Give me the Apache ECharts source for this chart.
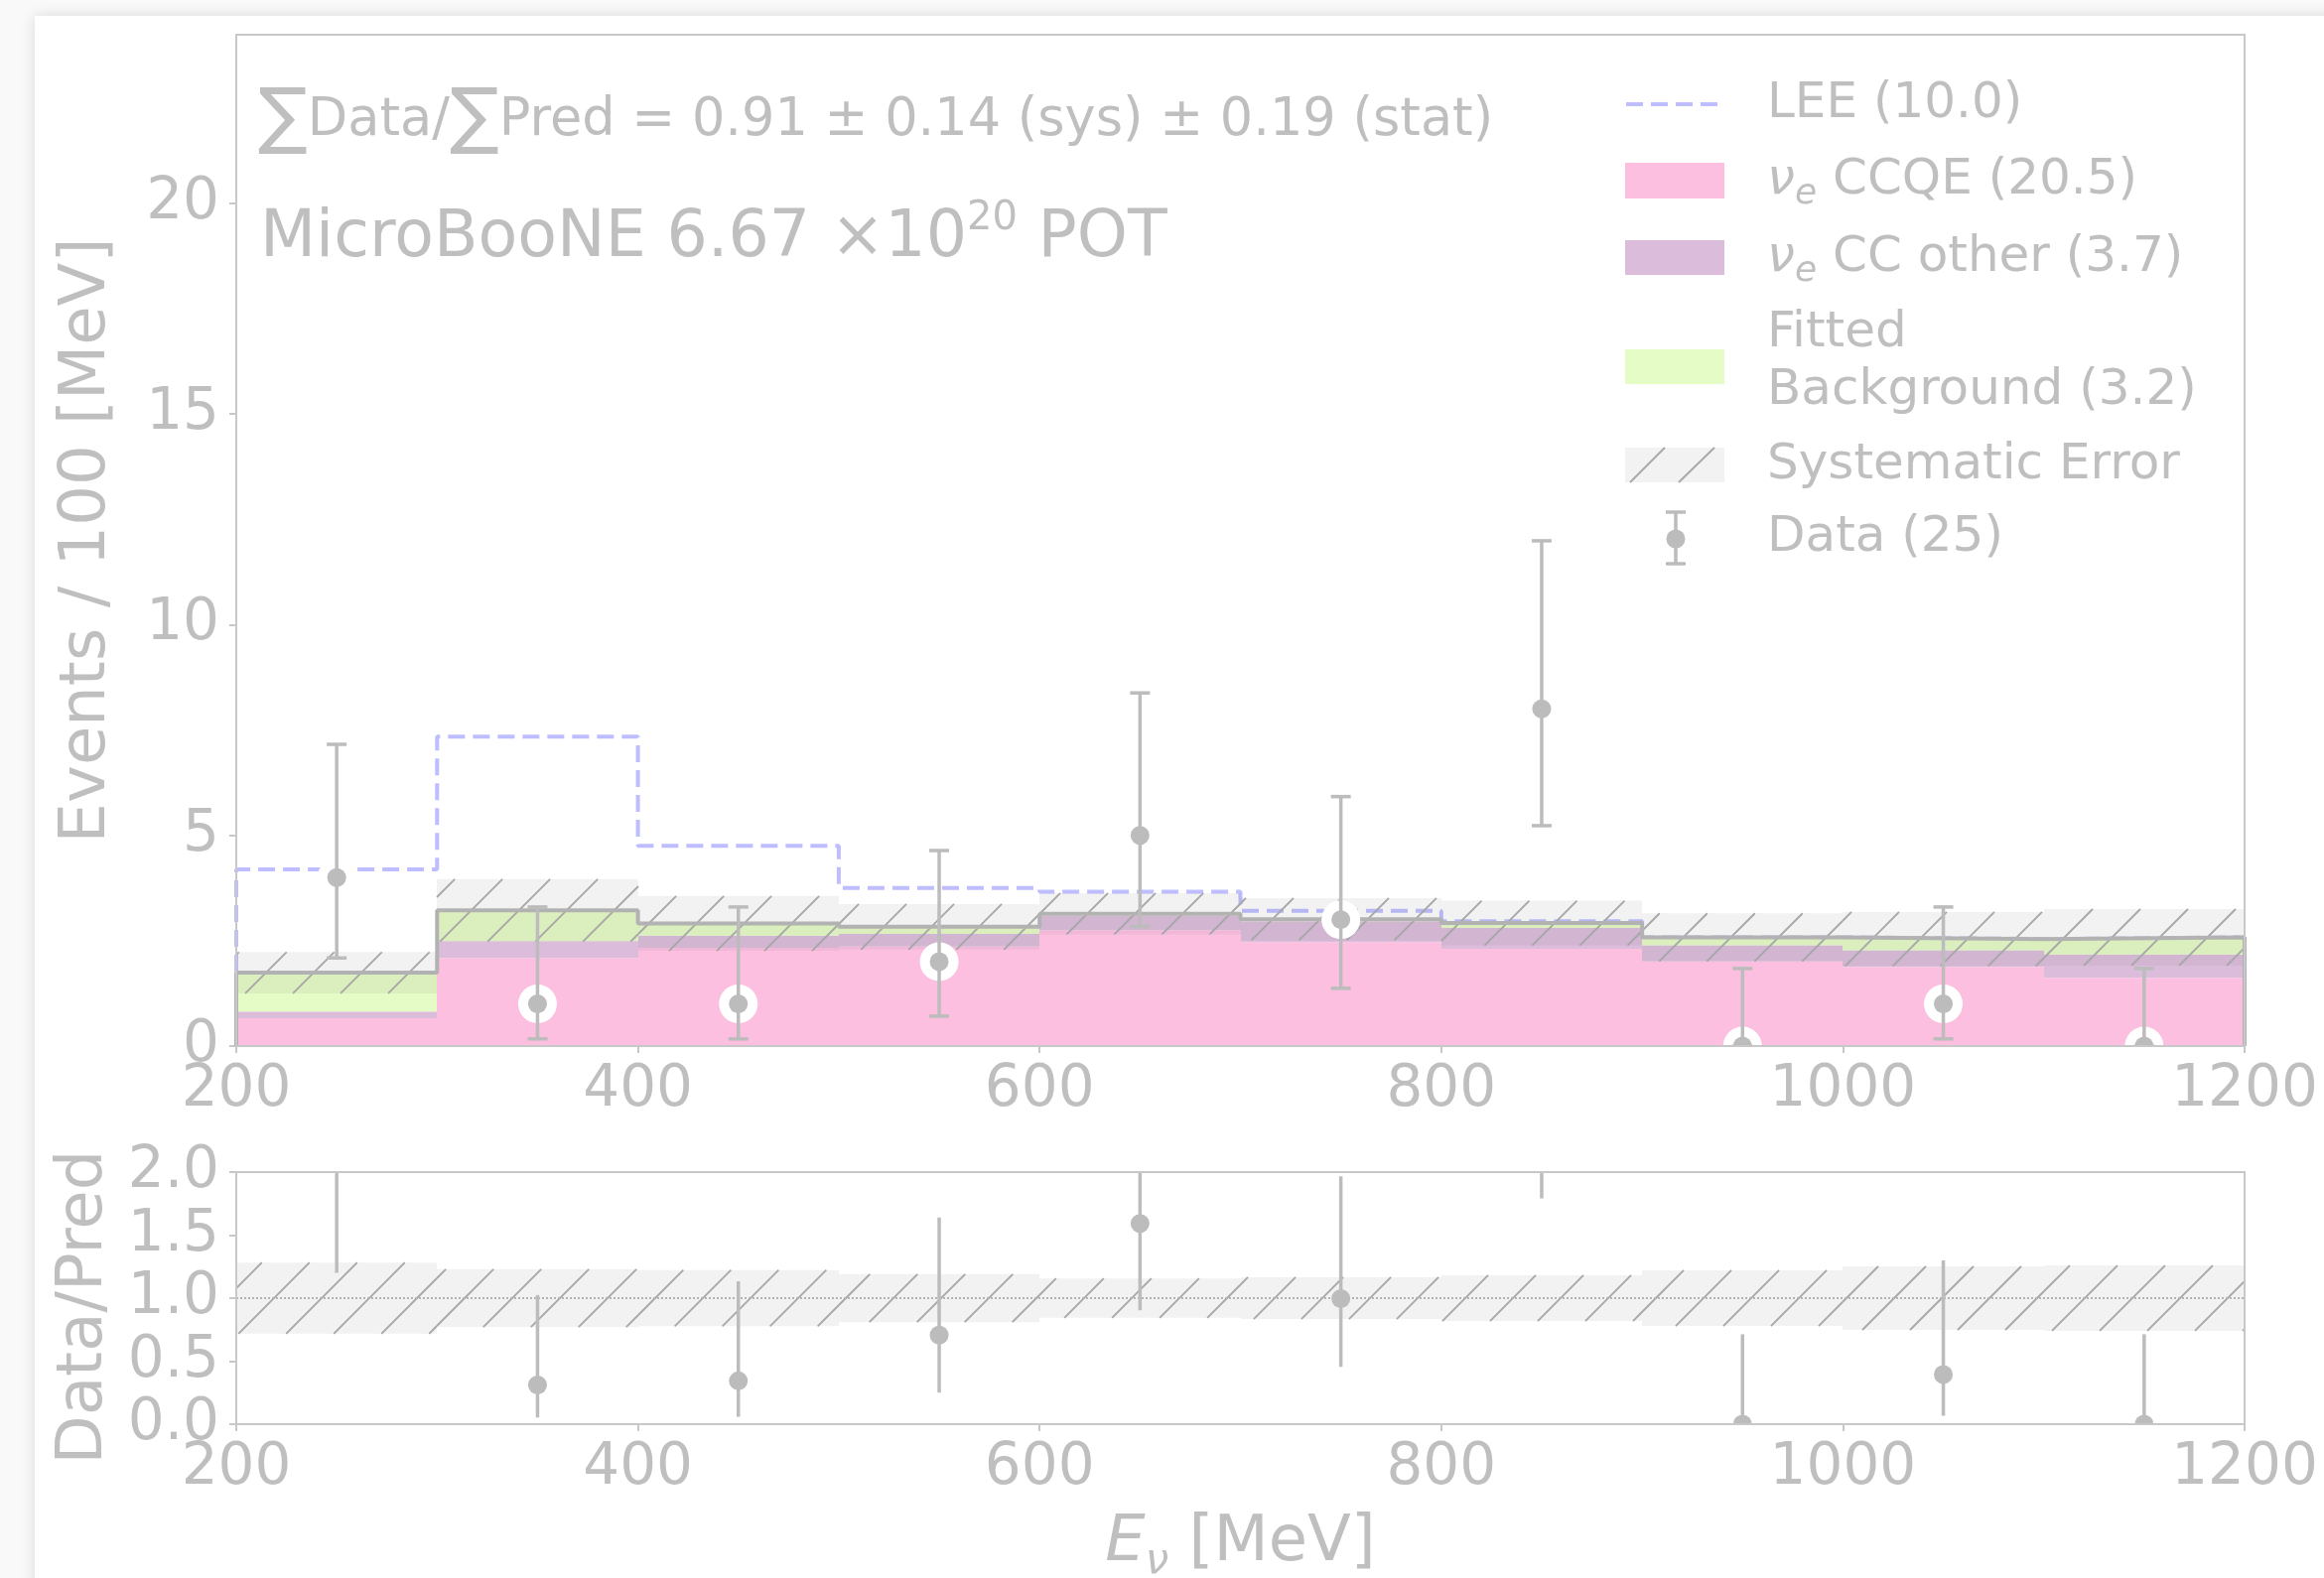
<!DOCTYPE html>
<html>
<head>
<meta charset="utf-8">
<script src="https://cdn.jsdelivr.net/npm/echarts@6/dist/echarts.min.js"></script>
<style>
  html, body { margin: 0; padding: 0; background: #f9f9f9; }
  #chart { width: 2341px; height: 1590px; }
</style>
</head>
<body>
<div id="chart"></div>
<script>
// binning (MeV) and stacked predictions, events / 100 MeV
var binEdges = [200, 300, 400, 500, 600, 700, 800, 900, 1000, 1100, 1200];
var ccqe = [0.66, 2.09, 2.33, 2.36, 2.75, 2.47, 2.31, 2.01, 1.88, 1.62];
var ccOther = [0.16, 0.40, 0.29, 0.30, 0.34, 0.49, 0.49, 0.38, 0.39, 0.55];
var fittedBkg = [0.92, 0.73, 0.29, 0.17, 0.05, 0.05, 0.12, 0.19, 0.27, 0.41];
var sysErr = [0.49, 0.74, 0.65, 0.54, 0.49, 0.50, 0.53, 0.57, 0.64, 0.67];
var leeLevel = [4.19, 7.34, 4.75, 3.75, 3.66, 3.21, 2.96, 2.58, 2.54, 2.58];
// data with asymmetric (poisson) errors
var dataCounts = [4, 1, 1, 2, 5, 3, 8, 0, 1, 0];
var dataErrLow = [1.91, 0.83, 0.83, 1.29, 2.16, 1.63, 2.77, 0, 0.83, 0];
var dataErrHigh = [3.16, 2.30, 2.30, 2.64, 3.38, 2.92, 3.99, 1.84, 2.30, 1.84];
// tick labels
var xTicks = [200, 400, 600, 800, 1000, 1200];
var yTicksMain = [0, 5, 10, 15, 20];
var yTicksRatio = [0, 0.5, 1.0, 1.5, 2.0];

var TXT = '#bfbfbf';
var FONT = 'DejaVu Sans';
var PINK = '#fdbfe0', PURPLE = '#dcbcdb', GREEN = '#e6fcc6';
var BAND = 'rgba(128,128,128,0.1)';
var DATA_C = '#bcbcbc';
var LEE_C = '#bdbdff';
var HATCH = 48;

var binLo = binEdges.slice(0, -1);
var binHi = binEdges.slice(1);
var binCenter = binLo.map(function (x, i) { return (x + binHi[i]) / 2; });
var otherTop = ccqe.map(function (v, i) { return v + ccOther[i]; });
var predTotal = otherTop.map(function (v, i) { return v + fittedBkg[i]; });
var zeros = ccqe.map(function () { return 0; });

function layerRows(lower, upper) {
  return binLo.map(function (x, i) { return [x, binHi[i], lower[i], upper[i]]; });
}
function stepPoints(levels) {
  var pts = [[binEdges[0], 0]];
  levels.forEach(function (v, i) { pts.push([binLo[i], v], [binHi[i], v]); });
  pts.push([binEdges[binEdges.length - 1], 0]);
  return pts;
}

function binRect(color) {
  return function (params, api) {
    var a = api.coord([api.value(0), api.value(3)]);
    var b = api.coord([api.value(1), api.value(2)]);
    var x0 = Math.round(a[0]), x1 = Math.round(b[0]);
    return { type: 'rect', shape: { x: x0, y: a[1], width: x1 - x0, height: b[1] - a[1] }, style: { fill: color } };
  };
}

// "/" hatch clipped to a pixel rect, anchored to the canvas
function hatchLines(x0, x1, y0, y1) {
  var out = [];
  for (var k = Math.ceil((x0 + y0) / HATCH) * HATCH; k <= x1 + y1; k += HATCH) {
    var ya = Math.max(y0, k - x1), yb = Math.min(y1, k - x0);
    if (yb - ya < 1) continue;
    out.push({ type: 'line', shape: { x1: k - ya, y1: ya, x2: k - yb, y2: yb },
      style: { stroke: '#a6a6a6', lineWidth: 1.8 } });
  }
  return out;
}
function bandItem(params, api) {
  var a = api.coord([api.value(0), api.value(3)]);
  var b = api.coord([api.value(1), api.value(2)]);
  var x0 = Math.round(a[0]), x1 = Math.round(b[0]);
  return { type: 'group', children: [
    { type: 'rect', shape: { x: x0, y: a[1], width: x1 - x0, height: b[1] - a[1] }, style: { fill: BAND } }
  ].concat(hatchLines(x0, x1, a[1], b[1])) };
}

function errBar(caps) {
  return function (params, api) {
    var top = api.coord([api.value(0), api.value(3)]);
    var bot = api.coord([api.value(0), api.value(2)]);
    var st = { stroke: DATA_C, lineWidth: 3.5 };
    var ch = [{ type: 'line', shape: { x1: top[0], y1: top[1], x2: bot[0], y2: bot[1] }, style: st }];
    if (caps) {
      [top, bot].forEach(function (p) {
        ch.push({ type: 'line', shape: { x1: p[0] - 10, y1: p[1], x2: p[0] + 10, y2: p[1] }, style: st });
      });
    }
    return { type: 'group', children: ch };
  };
}
function dot(r, color) {
  return function (params, api) {
    var p = api.coord([api.value(0), api.value(1)]);
    return { type: 'circle', shape: { cx: p[0], cy: p[1], r: r }, style: { fill: color } };
  };
}

var dataRows = binCenter.map(function (x, i) {
  return [x, dataCounts[i], dataCounts[i] - dataErrLow[i], dataCounts[i] + dataErrHigh[i]];
});
var ratioRows = binCenter.map(function (x, i) {
  var p = predTotal[i];
  return [x, dataCounts[i] / p, (dataCounts[i] - dataErrLow[i]) / p, (dataCounts[i] + dataErrHigh[i]) / p];
});
var ratioBand = binLo.map(function (x, i) {
  var r = sysErr[i] / predTotal[i];
  return [x, binHi[i], 1 - r, 1 + r];
});
var sysRows = binLo.map(function (x, i) {
  return [x, binHi[i], predTotal[i] - sysErr[i], predTotal[i] + sysErr[i]];
});

function custom(grid, render, data, z) {
  return { type: 'custom', xAxisIndex: grid, yAxisIndex: grid, renderItem: render, data: data,
    z: z, clip: true, silent: true };
}

var axisTick = { show: true, length: 7, lineStyle: { color: '#c8c8c8', width: 2 } };
var labelStyle = { fontSize: 58, color: TXT, fontFamily: FONT };

function xAx(grid, extra) {
  var ax = {
    gridIndex: grid, type: 'value', min: 200, max: 1200, interval: 200,
    axisLine: { show: false }, splitLine: { show: false },
    axisTick: Object.assign({ customValues: xTicks }, axisTick),
    axisLabel: Object.assign({ margin: 16, customValues: xTicks,
      formatter: function (v) { return String(v); } }, labelStyle)
  };
  return Object.assign(ax, extra || {});
}

var legRich = {
  nu: { fontSize: 50, lineHeight: 64, fontStyle: 'italic', fill: TXT, fontFamily: FONT },
  sub: { fontSize: 36, lineHeight: 32, fontStyle: 'italic', verticalAlign: 'bottom', fill: TXT, fontFamily: FONT },
  t: { fontSize: 50, lineHeight: 64, fill: TXT, fontFamily: FONT }
};
function legText(y, text, extra) {
  return { type: 'text', x: 1780, y: y, z: 100,
    style: Object.assign({ text: text, fill: TXT, fontSize: 50, fontFamily: FONT, verticalAlign: 'middle', rich: legRich }, extra || {}) };
}
var hatchLegend = [[1642, 486, 1677, 451], [1691, 486, 1727, 451]].map(function (s) {
  return { type: 'line', z: 100, shape: { x1: s[0], y1: s[1], x2: s[2], y2: s[3] }, style: { stroke: '#a6a6a6', lineWidth: 1.8 } };
});

var chart = echarts.init(document.getElementById('chart'));
chart.setOption({
  animation: false,
  backgroundColor: '#f9f9f9',
  grid: [
    { left: 238, right: 80, top: 35, height: 1019, show: true, backgroundColor: 'transparent',
      borderColor: '#c8c8c8', borderWidth: 2, z: 20, outerBoundsMode: 'none' },
    { left: 238, right: 80, top: 1181, height: 254, show: true, backgroundColor: 'transparent',
      borderColor: '#c8c8c8', borderWidth: 2, z: 20, outerBoundsMode: 'none' }
  ],
  xAxis: [
    xAx(0),
    xAx(1, {
      name: '{e|E}{s|ν}{t| [MeV]}', nameLocation: 'middle', nameGap: 80,
      nameTextStyle: { color: TXT, rich: {
        e: { fontSize: 64, lineHeight: 80, fontStyle: 'italic', color: TXT, fontFamily: FONT },
        s: { fontSize: 42, lineHeight: 38, fontStyle: 'italic', verticalAlign: 'bottom', color: TXT, fontFamily: FONT },
        t: { fontSize: 64, lineHeight: 80, color: TXT, fontFamily: FONT }
      } }
    })
  ],
  yAxis: [
    { gridIndex: 0, type: 'value', min: 0, max: 24, interval: 5,
      axisLine: { show: false }, splitLine: { show: false },
      axisTick: Object.assign({ customValues: yTicksMain }, axisTick),
      axisLabel: Object.assign({ margin: 17, customValues: yTicksMain }, labelStyle),
      name: 'Events / 100 [MeV]', nameLocation: 'middle', nameGap: 118,
      nameTextStyle: { fontSize: 64, color: TXT, fontFamily: FONT } },
    { gridIndex: 1, type: 'value', min: 0, max: 2, interval: 0.5,
      axisLine: { show: false }, splitLine: { show: false },
      axisTick: Object.assign({ customValues: yTicksRatio }, axisTick),
      axisLabel: Object.assign({ margin: 17, customValues: yTicksRatio,
        formatter: function (v) { return v.toFixed(1); } }, labelStyle),
      name: 'Data/Pred', nameLocation: 'middle', nameGap: 118,
      nameTextStyle: { fontSize: 64, color: TXT, fontFamily: FONT, padding: [0, 18, 0, 0] } }
  ],
  graphic: [
    { type: 'rect', z: -100, shape: { x: 35, y: 16, width: 2400, height: 1700 },
      style: { fill: '#ffffff', shadowBlur: 14, shadowColor: 'rgba(0,0,0,0.13)' } },
    { type: 'text', x: 260, y: 122, z: 100, style: {
      text: '{s|∑}{t|Data/}{s|∑}{t|Pred = 0.91 ± 0.14 (sys) ± 0.19 (stat)}', verticalAlign: 'middle',
      fill: TXT, fontFamily: FONT, fontSize: 52.5,
      rich: { s: { fontSize: 74, lineHeight: 80, fill: TXT, fontFamily: FONT },
              t: { fontSize: 52.5, lineHeight: 80, fill: TXT, fontFamily: FONT } } } },
    { type: 'text', x: 262, y: 241, z: 100, style: {
      text: '{t|MicroBooNE 6.67 ×10}{p|20}{t| POT}', verticalAlign: 'middle',
      fill: TXT, fontFamily: FONT, fontSize: 65,
      rich: { t: { fontSize: 65, lineHeight: 80, fill: TXT, fontFamily: FONT },
              p: { fontSize: 40, lineHeight: 40, verticalAlign: 'top', fill: TXT, fontFamily: FONT } } } },
    // legend
    { type: 'line', z: 100, shape: { x1: 1638, y1: 105, x2: 1737, y2: 105 },
      style: { stroke: LEE_C, lineWidth: 4, lineDash: [17, 8] } },
    { type: 'rect', z: 100, shape: { x: 1637, y: 164, width: 100, height: 36 }, style: { fill: PINK } },
    { type: 'rect', z: 100, shape: { x: 1637, y: 242, width: 100, height: 35 }, style: { fill: PURPLE } },
    { type: 'rect', z: 100, shape: { x: 1637, y: 352, width: 100, height: 35 }, style: { fill: GREEN } },
    { type: 'rect', z: 100, shape: { x: 1637, y: 451, width: 100, height: 35 }, style: { fill: BAND } }
  ].concat(hatchLegend).concat([
    { type: 'line', z: 100, shape: { x1: 1688, y1: 516, x2: 1688, y2: 568 }, style: { stroke: DATA_C, lineWidth: 3.5 } },
    { type: 'line', z: 100, shape: { x1: 1678, y1: 516, x2: 1698, y2: 516 }, style: { stroke: DATA_C, lineWidth: 3.5 } },
    { type: 'line', z: 100, shape: { x1: 1678, y1: 568, x2: 1698, y2: 568 }, style: { stroke: DATA_C, lineWidth: 3.5 } },
    { type: 'circle', z: 100, shape: { cx: 1688, cy: 543, r: 9.5 }, style: { fill: DATA_C } },
    legText(105, 'LEE (10.0)'),
    legText(182, '{nu|ν}{sub|e}{t| CCQE (20.5)}'),
    legText(260, '{nu|ν}{sub|e}{t| CC other (3.7)}'),
    legText(365, 'Fitted\nBackground (3.2)', { lineHeight: 58, rich: null }),
    legText(469, 'Systematic Error'),
    legText(542, 'Data (25)')
  ]),
  series: [
    { type: 'line', xAxisIndex: 0, yAxisIndex: 0, data: stepPoints(leeLevel), z: 1,
      showSymbol: false, symbol: 'none', silent: true, clip: true,
      lineStyle: { color: LEE_C, width: 4, type: [17, 8] } },
    custom(0, binRect(PINK), layerRows(zeros, ccqe), 2),
    custom(0, binRect(PURPLE), layerRows(ccqe, otherTop), 2),
    custom(0, binRect(GREEN), layerRows(otherTop, predTotal), 2),
    custom(0, bandItem, sysRows, 3),
    { type: 'line', xAxisIndex: 0, yAxisIndex: 0, data: stepPoints(predTotal), z: 4,
      showSymbol: false, symbol: 'none', silent: true, clip: true,
      lineStyle: { color: '#b2b2b2', width: 4 } },
    custom(0, dot(19.5, '#ffffff'), dataRows, 5),
    custom(0, errBar(true), dataRows, 6),
    custom(0, dot(9.5, DATA_C), dataRows, 7),
    // ratio panel
    custom(1, bandItem, ratioBand, 3),
    { type: 'line', xAxisIndex: 1, yAxisIndex: 1, data: [[200, 1], [1200, 1]], z: 4,
      showSymbol: false, symbol: 'none', silent: true,
      lineStyle: { color: '#b4b4b4', width: 2, type: 'dotted' } },
    custom(1, errBar(false), ratioRows, 6),
    custom(1, dot(9.5, DATA_C), ratioRows, 7)
  ]
});
</script>
</body>
</html>
